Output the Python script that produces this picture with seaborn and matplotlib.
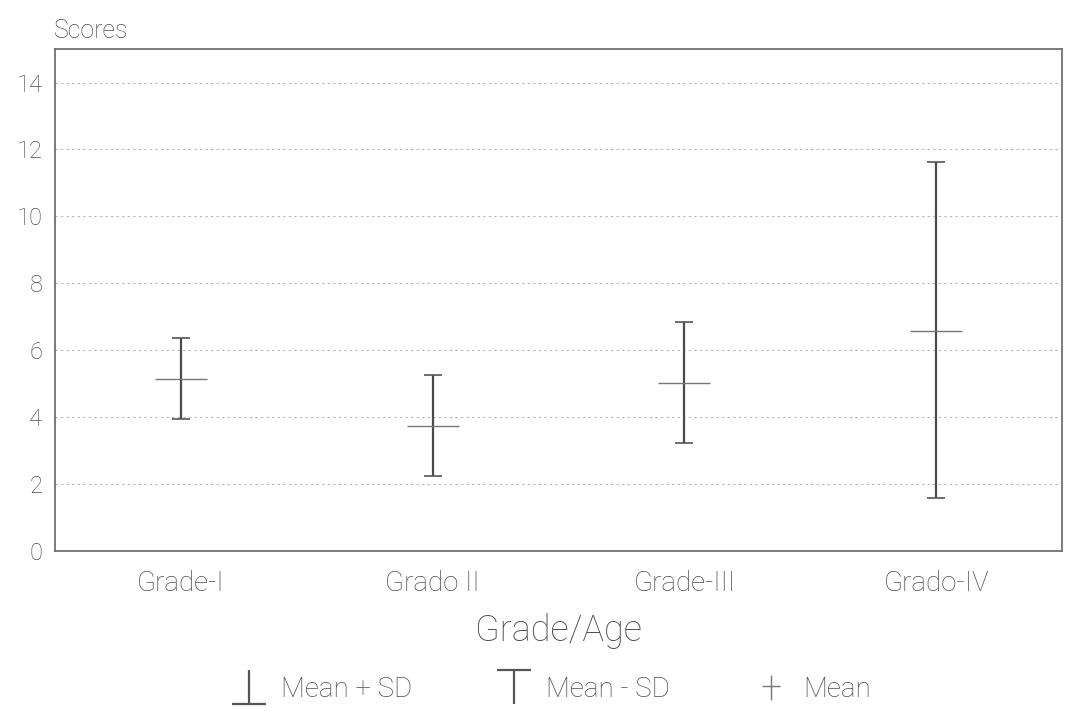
import matplotlib
matplotlib.use("Agg")
import matplotlib.pyplot as plt
from matplotlib.lines import Line2D
from matplotlib.path import Path
import seaborn as sns
import pandas as pd

grades = ["Grade-I", "Grado II", "Grade-III", "Grado-IV"]
mean_vals = [5.13, 3.75, 5.03, 6.56]
upper_vals = [6.38, 5.25, 6.84, 11.62]
lower_vals = [3.95, 2.23, 3.23, 1.57]
y_ticks = [0, 2, 4, 6, 8, 10, 12, 14]

df = pd.DataFrame({"grade": grades, "mean": mean_vals,
                   "upper": upper_vals, "lower": lower_vals})

sns.set_style("white")
plt.rcParams["font.family"] = ["Roboto", "Liberation Sans", "DejaVu Sans"]
plt.rcParams["font.weight"] = "light"
plt.rcParams["axes.labelweight"] = "light"

txt = "#4e4e4e"
fig = plt.figure(figsize=(10.72, 7.11), dpi=100)
ax = fig.add_axes([0.0513, 0.225, 0.9394, 0.706])

ax.set_xlim(-0.5, 3.5)
ax.set_ylim(0, 15)

sns.scatterplot(data=df, x="grade", y="mean", marker="_", s=38**2,
                color="#777777", linewidth=1.0, ax=ax, zorder=4, legend=False)
ax.vlines(df["grade"], df["lower"], df["upper"], color="#4a4a4a", lw=1.6, zorder=3)
sns.scatterplot(data=df, x="grade", y="upper", marker="_", s=13**2,
                color="#555555", linewidth=1.2, ax=ax, zorder=4, legend=False)
sns.scatterplot(data=df, x="grade", y="lower", marker="_", s=13**2,
                color="#555555", linewidth=1.2, ax=ax, zorder=4, legend=False)

ax.set_yticks(y_ticks)
ax.yaxis.grid(True, linestyle=(0, (2, 3)), color="#b5b5b5", lw=0.8)
ax.xaxis.grid(False)
ax.set_axisbelow(True)
for s in ax.spines.values():
    s.set_visible(True)
    s.set_color("#666666")
    s.set_linewidth(1.2)

ax.tick_params(axis="x", direction="in", length=9, width=1.4, color="#555555",
               labelsize=20, labelcolor=txt, pad=14, top=False)
ax.tick_params(axis="y", direction="in", length=5, width=1.0, color="#777777",
               labelsize=17, labelcolor=txt, pad=9, right=False)
ax.set_xlabel("Grade/Age", fontsize=26, color=txt, labelpad=11, fontweight="light")
ax.set_ylabel("")
fig.text(0.050, 0.940, "Scores", fontsize=18, color=txt, ha="left", va="bottom")

perp = Path([(-1, -1), (1, -1), (0, -1), (0, 1)],
            [Path.MOVETO, Path.LINETO, Path.MOVETO, Path.LINETO])
tee = Path([(-1, 1), (1, 1), (0, 1), (0, -1)],
           [Path.MOVETO, Path.LINETO, Path.MOVETO, Path.LINETO])
plus = Path([(-0.7, 0.1), (0.7, 0.1), (0, -1), (0, 1)],
            [Path.MOVETO, Path.LINETO, Path.MOVETO, Path.LINETO])
handles = [
    Line2D([], [], ls="none", marker=perp, markersize=24, mew=1.6,
           color="#555555", markerfacecolor="none"),
    Line2D([], [], ls="none", marker=tee, markersize=24, mew=1.6,
           color="#555555", markerfacecolor="none"),
    Line2D([], [], ls="none", marker=plus, markersize=18, mew=1.0,
           color="#777777", markerfacecolor="none"),
]
labels = ["Mean + SD", "Mean - SD", "Mean"]
leg = fig.legend(handles, labels, loc="lower center", bbox_to_anchor=(0.514, -0.024),
                 ncol=3, frameon=False, fontsize=20, columnspacing=3.0,
                 handletextpad=0.5, handlelength=1.3)
for t in leg.get_texts():
    t.set_color(txt)

fig.savefig("out.png", dpi=100, facecolor="white")
